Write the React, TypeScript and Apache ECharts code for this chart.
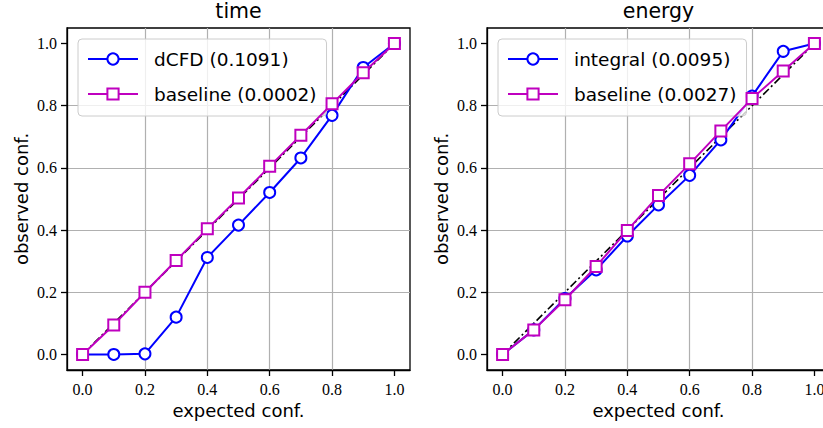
import React, { useEffect, useRef } from "react";
import * as echarts from "echarts";

const confBins = [0, 0.1, 0.2, 0.3, 0.4, 0.5, 0.6, 0.7, 0.8, 0.9, 1.0];
const tickValues = [0, 0.2, 0.4, 0.6, 0.8, 1.0];
const diagonal = [0, 1];

const timeTitle = "time";
const timeModelName = "dCFD (0.1091)";
const timeModel = [0, 0, 0.002, 0.12, 0.312, 0.416, 0.521, 0.632, 0.769, 0.923, 1.0];
const timeBaselineName = "baseline (0.0002)";
const timeBaseline = [0, 0.095, 0.2, 0.302, 0.404, 0.503, 0.605, 0.705, 0.806, 0.906, 1.0];

const energyTitle = "energy";
const energyModelName = "integral (0.0095)";
const energyModel = [0, 0.079, 0.18, 0.272, 0.381, 0.481, 0.576, 0.69, 0.831, 0.975, 1.0];
const energyBaselineName = "baseline (0.0027)";
const energyBaseline = [0, 0.079, 0.176, 0.283, 0.399, 0.511, 0.613, 0.719, 0.823, 0.912, 1.0];

const xLabel = "expected conf.";
const yLabel = "observed conf.";

const BLUE = "#0000ff";
const MAGENTA = "#bf00bf";
const SANS = "DejaVu Sans";
const SERIF = "'Liberation Serif', 'Times New Roman', serif";

const pairs = (xs: number[], ys: number[]) => xs.map((x, i) => [x, ys[i]]);

function makeAxis(kind: "x" | "y", gridIndex: number) {
  const isX = kind === "x";
  return {
    type: "value",
    gridIndex,
    min: -0.05,
    max: 1.05,
    name: isX ? xLabel : yLabel,
    nameLocation: "middle",
    nameGap: isX ? 31 : 37,
    nameTextStyle: { fontFamily: SANS, fontSize: 18, color: "#000" },
    axisLine: { show: true, onZero: false, lineStyle: { color: "#000", width: 1.3 } },
    axisTick: {
      show: true,
      inside: false,
      length: 6,
      customValues: tickValues,
      lineStyle: { color: "#000", width: 1.3 },
    },
    axisLabel: {
      customValues: tickValues,
      formatter: (v: number) => v.toFixed(1),
      fontFamily: SERIF,
      fontSize: 16,
      color: "#000",
      margin: isX ? 11 : 10,
    },
    splitLine: {
      show: true,
      showMinLine: false,
      showMaxLine: false,
      lineStyle: { color: "#b0b0b0", width: 1.2 },
    },
  };
}

function modelSeries(name: string, data: number[], gridIndex: number) {
  return {
    name,
    type: "line",
    xAxisIndex: gridIndex,
    yAxisIndex: gridIndex,
    data: pairs(confBins, data),
    symbol: "emptyCircle",
    symbolSize: 11,
    color: BLUE,
    lineStyle: { color: BLUE, width: 2 },
    itemStyle: { color: BLUE, borderColor: BLUE, borderWidth: 1.5 },
    z: 3,
  };
}

function baselineSeries(name: string, data: number[], gridIndex: number) {
  return {
    name,
    type: "line",
    xAxisIndex: gridIndex,
    yAxisIndex: gridIndex,
    data: pairs(confBins, data),
    symbol: "emptyRect",
    symbolSize: 11,
    color: MAGENTA,
    lineStyle: { color: MAGENTA, width: 2 },
    itemStyle: { color: MAGENTA, borderColor: MAGENTA, borderWidth: 1.5 },
    z: 4,
  };
}

function diagSeries(gridIndex: number) {
  return {
    name: "diag" + gridIndex,
    type: "line",
    xAxisIndex: gridIndex,
    yAxisIndex: gridIndex,
    data: pairs(diagonal, diagonal),
    symbol: "none",
    silent: true,
    lineStyle: { color: "#000", width: 1.6, type: [8, 3, 2, 3] },
    z: 2,
  };
}

function makeLegend(names: string[], left: number) {
  return {
    data: names,
    orient: "vertical",
    left,
    top: 39,
    padding: [8, 10, 10, 9],
    itemGap: 11,
    itemWidth: 50,
    itemHeight: 14,
    backgroundColor: "rgba(255,255,255,0.8)",
    borderColor: "#cccccc",
    borderWidth: 1,
    borderRadius: 4,
    textStyle: {
      fontFamily: SANS,
      fontSize: 18.5,
      lineHeight: 24,
      color: "#000",
      padding: [0, 0, 0, 11],
    },
  };
}

export default function App() {
  const ref = useRef<HTMLDivElement>(null);
  useEffect(() => {
    if (!ref.current) return;
    const chart = echarts.init(ref.current, undefined, { renderer: "svg" });
    chart.setOption({
      animation: false,
      backgroundColor: "#ffffff",
      title: [
        {
          text: timeTitle,
          left: 238.5,
          top: 0,
          padding: 0,
          textAlign: "center",
          textStyle: { fontFamily: SANS, fontSize: 20.5, fontWeight: "normal", color: "#000" },
        },
        {
          text: energyTitle,
          left: 658.5,
          top: 0,
          padding: 0,
          textAlign: "center",
          textStyle: { fontFamily: SANS, fontSize: 20.5, fontWeight: "normal", color: "#000" },
        },
      ],
      grid: [
        {
          left: 67, top: 28, width: 343, height: 342, show: true,
          borderColor: "#000", borderWidth: 1.3, backgroundColor: "transparent",
          containLabel: false, outerBoundsMode: "none",
        },
        {
          left: 487, top: 28, width: 343, height: 342, show: true,
          borderColor: "#000", borderWidth: 1.3, backgroundColor: "transparent",
          containLabel: false, outerBoundsMode: "none",
        },
      ],
      xAxis: [makeAxis("x", 0), makeAxis("x", 1)],
      yAxis: [makeAxis("y", 0), makeAxis("y", 1)],
      legend: [
        makeLegend([timeModelName, timeBaselineName], 78),
        makeLegend([energyModelName, energyBaselineName], 498),
      ],
      series: [
        diagSeries(0),
        modelSeries(timeModelName, timeModel, 0),
        baselineSeries(timeBaselineName, timeBaseline, 0),
        diagSeries(1),
        modelSeries(energyModelName, energyModel, 1),
        baselineSeries(energyBaselineName, energyBaseline, 1),
      ],
    });
    return () => chart.dispose();
  }, []);
  return (
    <div
      ref={ref}
      style={{ position: "fixed", left: 0, top: 0, width: 823, height: 428, background: "#fff" }}
    />
  );
}
